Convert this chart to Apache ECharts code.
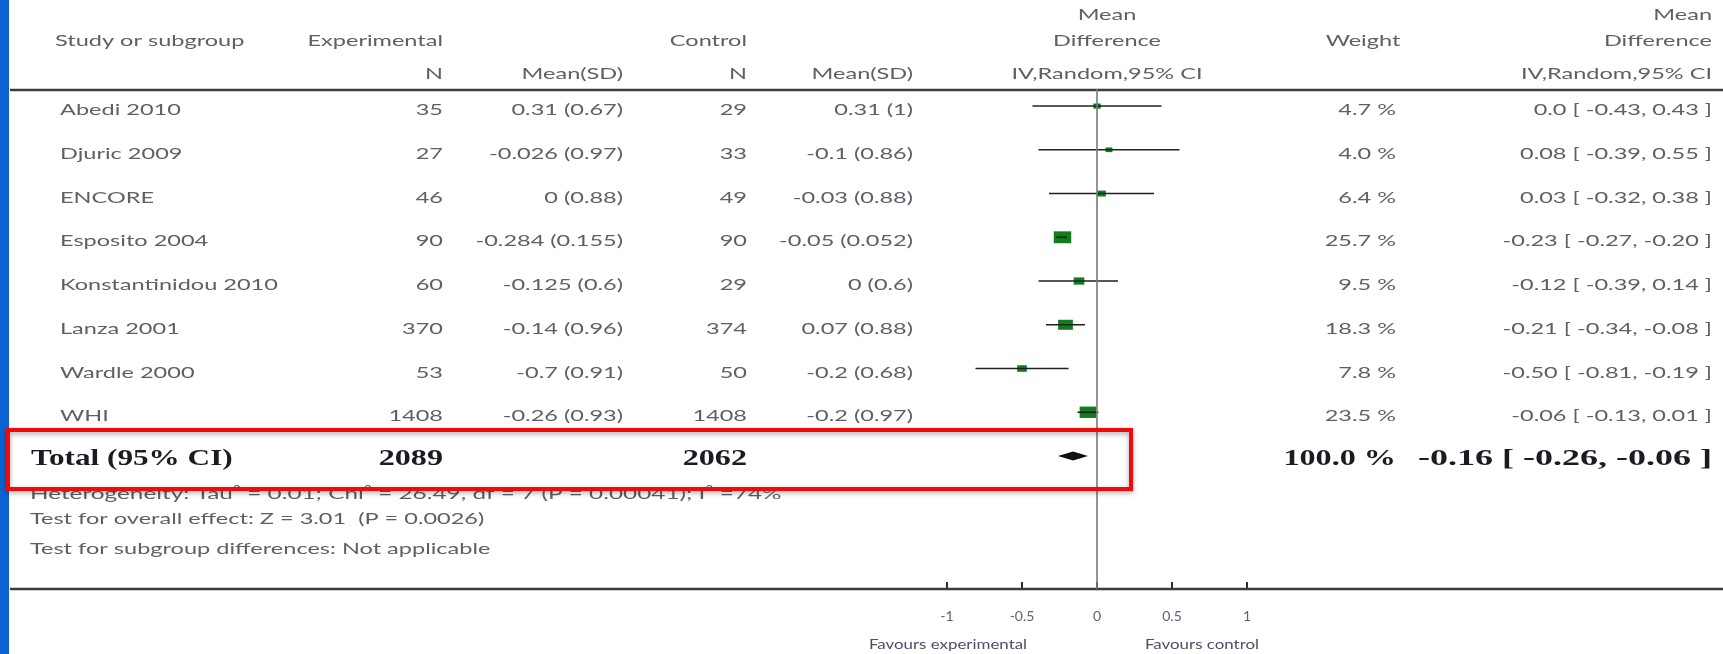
<!DOCTYPE html>
<html>
<head>
<meta charset="utf-8">
<script src="https://cdn.jsdelivr.net/npm/echarts@6/dist/echarts.min.js"></script>
<style>
  html, body { margin: 0; padding: 0; background: #ffffff; }
  #chart { width: 1723px; height: 654px; }
</style>
</head>
<body>
<div id="chart"></div>
<script>
// ---- study data ----
const studies = ['Abedi 2010', 'Djuric 2009', 'ENCORE', 'Esposito 2004', 'Konstantinidou 2010', 'Lanza 2001', 'Wardle 2000', 'WHI'];
const expN = [35, 27, 46, 90, 60, 370, 53, 1408];
const expMeanSD = ['0.31 (0.67)', '-0.026 (0.97)', '0 (0.88)', '-0.284 (0.155)', '-0.125 (0.6)', '-0.14 (0.96)', '-0.7 (0.91)', '-0.26 (0.93)'];
const ctrlN = [29, 33, 49, 90, 29, 374, 50, 1408];
const ctrlMeanSD = ['0.31 (1)', '-0.1 (0.86)', '-0.03 (0.88)', '-0.05 (0.052)', '0 (0.6)', '0.07 (0.88)', '-0.2 (0.68)', '-0.2 (0.97)'];
const weights = [4.7, 4.0, 6.4, 25.7, 9.5, 18.3, 7.8, 23.5];
const meanDiff = [0.0, 0.08, 0.03, -0.23, -0.12, -0.21, -0.50, -0.06];
const ciLow = [-0.43, -0.39, -0.32, -0.27, -0.39, -0.34, -0.81, -0.13];
const ciHigh = [0.43, 0.55, 0.38, -0.20, 0.14, -0.08, -0.19, 0.01];

// ---- pooled estimate ----
const totalLabel = 'Total (95% CI)';
const totalExpN = 2089;
const totalCtrlN = 2062;
const totalWeight = 100.0;
const totalMD = -0.16;
const totalLow = -0.26;
const totalHigh = -0.06;

// ---- footnotes and axis text ----
const footnotes = [
  'Heterogeneity: Tau\u00B2 = 0.01; Chi\u00B2 = 26.49, df = 7 (P = 0.00041); I\u00B2 =74%',
  'Test for overall effect: Z = 3.01  (P = 0.0026)',
  'Test for subgroup differences: Not applicable'
];
const tickValues = [-1, -0.5, 0, 0.5, 1];
const favourLeft = 'Favours experimental';
const favourRight = 'Favours control';

// ---- styling ----
const GRAY = '#5d6067';
const DARK = '#1b1b24';
const SANS = 'Lato';
const SERIF = '"Liberation Serif"';
const STRETCH = 1.47;       // wide lettering of the table
const BOLD_STRETCH = 1.34;
const GREEN = '#127d1f';

// table column anchors (px)
const COL = { study: 60, expN: 443, expMean: 623, ctrlN: 747, ctrlMean: 913, weight: 1396, ci: 1712, total: 31 };

function fmtMD(v) { return v === 0 ? '0.0' : v.toFixed(2); }
function ciText(m, l, h) { return fmtMD(m) + ' [ ' + l.toFixed(2) + ', ' + h.toFixed(2) + ' ]'; }

function label(text, x, y, align, opt) {
  opt = opt || {};
  return {
    type: 'text', x: x, y: y, scaleX: opt.stretch || STRETCH, z: 10,
    style: {
      text: String(text), fill: opt.fill || GRAY,
      font: opt.font || ('16px ' + SANS),
      align: align, verticalAlign: 'middle'
    }
  };
}
function boldLabel(text, x, y, align, stretch) {
  return label(text, x, y, align, { font: 'bold 24px ' + SERIF, fill: DARK, stretch: stretch || BOLD_STRETCH });
}

const rows = studies.map((s, i) => i);
const totalRow = studies.length;

const chart = echarts.init(document.getElementById('chart'), null, { renderer: 'canvas' });

const option = {
  backgroundColor: '#ffffff',
  animation: false,
  grid: { left: 947, width: 300, top: 89, height: 500, containLabel: false, outerBoundsMode: 'none' },
  xAxis: {
    type: 'value', min: -1, max: 1, interval: 0.5, position: 'bottom',
    axisLine: { show: false, onZero: false },
    axisTick: { show: true, inside: true, length: 7, lineStyle: { color: '#2a2a2a', width: 2 } },
    axisLabel: {
      show: true, margin: 20, color: '#5b6178', fontFamily: SANS, fontSize: 14,
      formatter: v => (tickValues.indexOf(v) >= 0 ? String(v) : '')
    },
    splitLine: { show: false }
  },
  yAxis: { type: 'value', inverse: true, min: -0.39, max: 11.04, show: false },
  graphic: [
    // side stripe
    { type: 'rect', shape: { x: 0, y: 0, width: 9, height: 654 }, style: { fill: '#0b62d1' }, z: 1 },
    // header and footer rules
    { type: 'line', shape: { x1: 10, y1: 90, x2: 1723, y2: 90 }, style: { stroke: '#3c3c3c', lineWidth: 2.5 }, z: 5 },
    { type: 'line', shape: { x1: 10, y1: 589, x2: 1723, y2: 589 }, style: { stroke: '#3c3c3c', lineWidth: 2.5 }, z: 5 },
    // column headings
    label('Mean', 1107, 15, 'center'),
    label('Mean', 1712, 15, 'right'),
    label('Study or subgroup', 55, 41, 'left'),
    label('Experimental', 443, 41, 'right'),
    label('Control', 747, 41, 'right'),
    label('Difference', 1107, 41, 'center'),
    label('Weight', 1363, 41, 'center'),
    label('Difference', 1712, 41, 'right'),
    label('N', 443, 74, 'right'),
    label('Mean(SD)', 623, 74, 'right'),
    label('N', 747, 74, 'right'),
    label('Mean(SD)', 913, 74, 'right'),
    label('IV,Random,95% CI', 1107, 74, 'center'),
    label('IV,Random,95% CI', 1712, 74, 'right'),
    // footnotes
    label(footnotes[0], 30, 494, 'left', { stretch: 1.52 }),
    label(footnotes[1], 30, 519, 'left'),
    label(footnotes[2], 30, 549, 'left'),
    // favours captions
    label(favourLeft, 948, 645, 'center', { font: '13px ' + SANS, fill: '#4a5068', stretch: 1.3 }),
    label(favourRight, 1202, 645, 'center', { font: '13px ' + SANS, fill: '#4a5068', stretch: 1.3 }),
    // highlight box around the pooled row
    {
      type: 'rect', shape: { x: 8, y: 430, width: 1123, height: 59 }, z: 50,
      style: { fill: 'none', stroke: '#f00a0a', lineWidth: 4, shadowBlur: 5, shadowColor: 'rgba(0,0,0,0.35)', shadowOffsetY: 2 }
    }
  ],
  series: [
    // table text, one row per study plus the pooled row
    {
      type: 'custom', name: 'table', z: 10, silent: true,
      data: rows.map(i => [0, i]).concat([[0, totalRow]]),
      encode: { x: 0, y: 1 },
      renderItem: function (params, api) {
        const i = api.value(1);
        const y = api.coord([0, i])[1];
        if (i === totalRow) {
          const ty = y + 3;
          return {
            type: 'group', children: [
              boldLabel(totalLabel, COL.total, ty, 'left', 1.3),
              boldLabel(totalExpN, COL.expN, ty, 'right'),
              boldLabel(totalCtrlN, COL.ctrlN, ty, 'right'),
              boldLabel(totalWeight.toFixed(1) + ' %', COL.weight, ty, 'right'),
              boldLabel(ciText(totalMD, totalLow, totalHigh), COL.ci, ty, 'right', 1.5)
            ]
          };
        }
        const ty = y + 4;
        return {
          type: 'group', children: [
            label(studies[i], COL.study, ty, 'left'),
            label(expN[i], COL.expN, ty, 'right'),
            label(expMeanSD[i], COL.expMean, ty, 'right'),
            label(ctrlN[i], COL.ctrlN, ty, 'right'),
            label(ctrlMeanSD[i], COL.ctrlMean, ty, 'right'),
            label(weights[i].toFixed(1) + ' %', COL.weight, ty, 'right'),
            label(ciText(meanDiff[i], ciLow[i], ciHigh[i]), COL.ci, ty, 'right')
          ]
        };
      },
      markLine: {
        silent: true, symbol: 'none', label: { show: false },
        lineStyle: { color: '#7a7a7a', width: 1.6, type: 'solid' },
        data: [{ xAxis: 0 }]
      }
    },
    // weight squares
    {
      type: 'custom', name: 'squares', z: 3, silent: true,
      data: rows.map(i => [meanDiff[i], i, weights[i]]),
      encode: { x: 0, y: 1 },
      renderItem: function (params, api) {
        const c = api.coord([api.value(0), api.value(1)]);
        const w = 3.45 * Math.sqrt(api.value(2));
        const h = 0.68 * w;
        return { type: 'rect', shape: { x: c[0] - w / 2, y: c[1] - h / 2, width: w, height: h }, style: { fill: GREEN } };
      }
    },
    // confidence intervals
    {
      type: 'custom', name: 'ci', z: 4, silent: true,
      data: rows.map(i => [ciLow[i], ciHigh[i], i]),
      encode: { x: [0, 1], y: 2 },
      renderItem: function (params, api) {
        const a = api.coord([api.value(0), api.value(2)]);
        const b = api.coord([api.value(1), api.value(2)]);
        return { type: 'line', shape: { x1: a[0], y1: a[1], x2: b[0], y2: b[1] }, style: { stroke: '#202020', lineWidth: 1.6 } };
      }
    },
    // pooled diamond
    {
      type: 'custom', name: 'pooled', z: 4, silent: true,
      data: [[totalLow, totalMD, totalHigh, totalRow]],
      encode: { x: [0, 1, 2], y: 3 },
      renderItem: function (params, api) {
        const r = api.value(3);
        const l = api.coord([api.value(0), r]);
        const m = api.coord([api.value(1), r]);
        const h = api.coord([api.value(2), r]);
        const half = 4.5;
        return {
          type: 'polygon',
          shape: { points: [[l[0], l[1]], [m[0], m[1] - half], [h[0], h[1]], [m[0], m[1] + half]] },
          style: { fill: '#111111' }
        };
      }
    }
  ]
};

chart.setOption(option);
</script>
</body>
</html>
